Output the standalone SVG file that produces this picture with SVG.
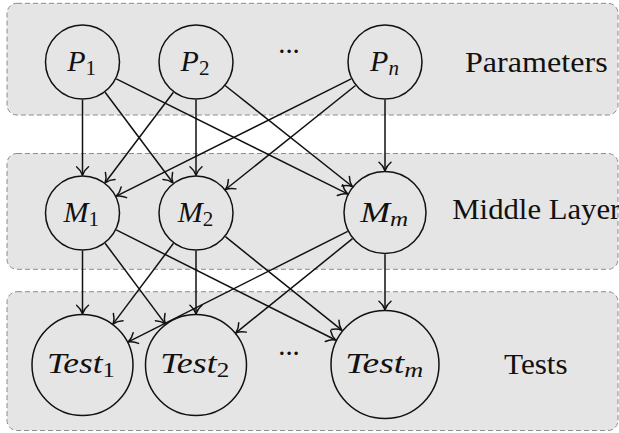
<svg xmlns="http://www.w3.org/2000/svg" width="619" height="433" viewBox="0 0 619 433">
  <style>
    .band { fill: #e5e5e5; stroke: #8c8c8c; stroke-width: 1; stroke-dasharray: 5 3; }
    .node { fill: none; stroke: #111; stroke-width: 1.5; }
    text { font-family: "Liberation Serif", "DejaVu Serif", "Times New Roman", serif; fill: #111; }
    .math { font-style: italic; font-size: 30px; text-anchor: middle; }
    .sub { font-style: normal; font-size: 21px; }
    .subi { font-style: italic; font-size: 21px; }
    .layer { font-size: 28.7px; }
    .dots { font-size: 28.7px; text-anchor: middle; }
    .edge { stroke: #111; stroke-width: 1.5; fill: none; marker-end: url(#tip); }
  </style>
  <defs>
    <!-- curved open arrow tip -->
    <marker id="tip" markerUnits="userSpaceOnUse" markerWidth="12" markerHeight="14" refX="0" refY="0" viewBox="-11 -7 12 14" orient="auto">
      <path d="M-8.5,-6 C-5.5,-2.2 -1.8,-0.6 0,0 C-1.8,0.6 -5.5,2.2 -8.5,6" fill="none" stroke="#111" stroke-width="1.5" stroke-linecap="round" stroke-linejoin="round"/>
    </marker>
  </defs>

  <!-- layer backgrounds -->
  <g id="bands">
    <rect class="band" x="7" y="3.3" width="611" height="111.7" rx="10"/>
    <rect class="band" x="7" y="153.5" width="611" height="115.8" rx="10"/>
    <rect class="band" x="7" y="291.7" width="611" height="138.8" rx="10"/>
  </g>

  <!-- layer captions -->
  <g id="captions">
    <text class="layer" x="465" y="72.3" textLength="142.7" lengthAdjust="spacingAndGlyphs">Parameters</text>
    <text class="layer" x="452.3" y="219.3" textLength="168" lengthAdjust="spacingAndGlyphs">Middle Layer</text>
    <text class="layer" x="504" y="374.3" textLength="63.7" lengthAdjust="spacingAndGlyphs">Tests</text>
    <text class="dots" x="289" y="53">...</text>
    <text class="dots" x="289" y="355">...</text>
  </g>

  <!-- connectors -->
  <g id="edges">
    <line class="edge" x1="82.5" y1="99.75" x2="82.5" y2="175.25"/>
    <line class="edge" x1="105.1" y1="92.2" x2="172.9" y2="182.8"/>
    <line class="edge" x1="116.3" y1="78.8" x2="347.6" y2="193.9"/>
    <line class="edge" x1="173.4" y1="92.2" x2="105.1" y2="182.8"/>
    <line class="edge" x1="196" y1="99.75" x2="196" y2="175.25"/>
    <line class="edge" x1="225.1" y1="85.5" x2="352.3" y2="186.5"/>
    <line class="edge" x1="351.2" y1="78.9" x2="116.3" y2="196.1"/>
    <line class="edge" x1="355.5" y1="85.5" x2="225.5" y2="189.5"/>
    <line class="edge" x1="385" y1="99.75" x2="385" y2="170.75"/>

    <line class="edge" x1="82.5" y1="250.75" x2="82.5" y2="313.75"/>
    <line class="edge" x1="105.1" y1="243.2" x2="165.3" y2="323.9"/>
    <line class="edge" x1="116.2" y1="229.9" x2="335.6" y2="340"/>
    <line class="edge" x1="173.5" y1="243.3" x2="113.1" y2="323.9"/>
    <line class="edge" x1="196" y1="250.75" x2="196" y2="313.75"/>
    <line class="edge" x1="225.4" y1="236.7" x2="341.8" y2="330.2"/>
    <line class="edge" x1="347.7" y1="231.3" x2="128.3" y2="341.9"/>
    <line class="edge" x1="352.5" y1="238.7" x2="235.9" y2="332.8"/>
    <line class="edge" x1="385" y1="254.25" x2="385" y2="309.75"/>
  </g>

  <!-- parameter nodes -->
  <g id="P1">
    <circle class="node" cx="82.5" cy="62" r="37"/>
    <text class="math" x="81.7" y="70.7">P<tspan class="sub" dy="4">1</tspan></text>
  </g>
  <g id="P2">
    <circle class="node" cx="196" cy="62" r="37"/>
    <text class="math" x="195" y="70.7">P<tspan class="sub" dy="4">2</tspan></text>
  </g>
  <g id="Pn">
    <circle class="node" cx="385" cy="62" r="37"/>
    <text class="math" x="384.5" y="70.7">P<tspan class="subi" dy="4">n</tspan></text>
  </g>

  <!-- middle nodes -->
  <g id="M1">
    <circle class="node" cx="82.5" cy="213" r="37"/>
    <text class="math" x="81.3" y="222">M<tspan class="sub" dy="4">1</tspan></text>
  </g>
  <g id="M2">
    <circle class="node" cx="196" cy="213" r="37"/>
    <text class="math" x="195.5" y="222">M<tspan class="sub" dy="4">2</tspan></text>
  </g>
  <g id="Mm">
    <circle class="node" cx="385" cy="212.5" r="41"/>
    <text class="math" x="384.2" y="221.5" textLength="48" lengthAdjust="spacingAndGlyphs">M<tspan class="subi" dy="4">m</tspan></text>
  </g>

  <!-- test nodes -->
  <g id="Test1">
    <circle class="node" cx="82.5" cy="365" r="50.5"/>
    <text class="math" x="80.9" y="373.3" textLength="68" lengthAdjust="spacingAndGlyphs">Test<tspan class="sub" dy="4">1</tspan></text>
  </g>
  <g id="Test2">
    <circle class="node" cx="196" cy="365" r="50.5"/>
    <text class="math" x="194.7" y="373.3" textLength="69" lengthAdjust="spacingAndGlyphs">Test<tspan class="sub" dy="4">2</tspan></text>
  </g>
  <g id="Testm">
    <circle class="node" cx="385" cy="364.5" r="54"/>
    <text class="math" x="384.2" y="372.7" textLength="78" lengthAdjust="spacingAndGlyphs">Test<tspan class="subi" dy="4">m</tspan></text>
  </g>
</svg>
